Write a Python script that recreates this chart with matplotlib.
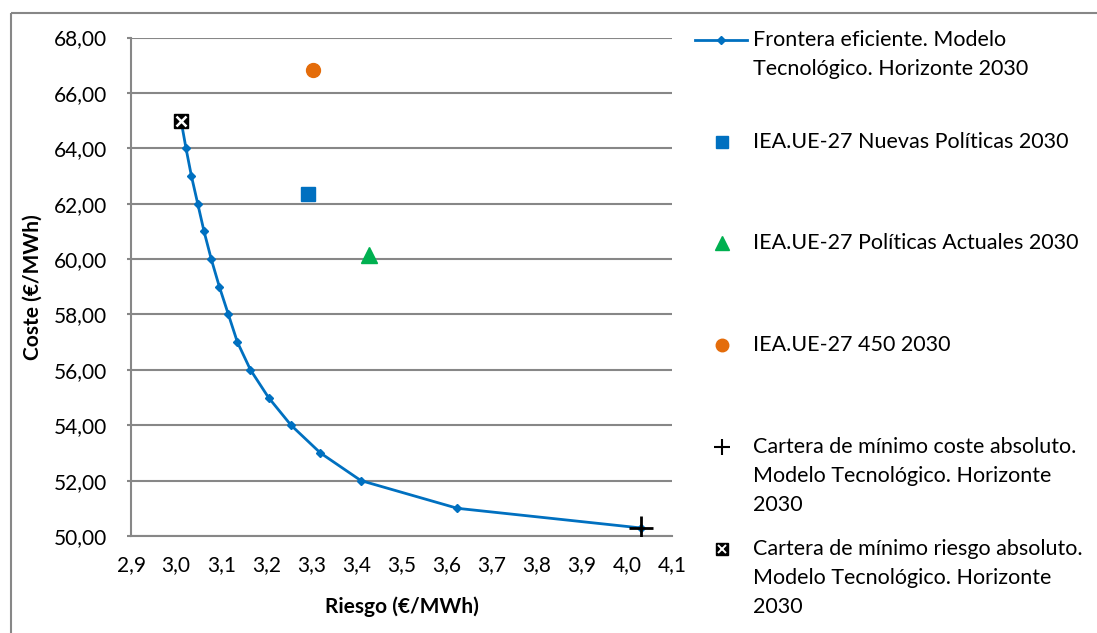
import matplotlib
matplotlib.use("Agg")
import matplotlib.pyplot as plt
from matplotlib.ticker import FuncFormatter

plt.rcParams['font.family'] = ['Lato', 'DejaVu Sans']

# Efficient frontier (risk, cost) in €/MWh
riesgo_frontera = [3.011, 3.022, 3.034, 3.048, 3.062, 3.078, 3.096, 3.116,
                   3.136, 3.165, 3.205, 3.255, 3.320, 3.410, 3.624, 4.031]
coste_frontera = [65.0, 64.0, 63.0, 62.0, 61.0, 60.0, 59.0, 58.0,
                  57.0, 56.0, 55.0, 54.0, 53.0, 52.0, 51.0, 50.29]

# IEA EU-27 scenarios for 2030
riesgo_nuevas, coste_nuevas = [3.292], [62.35]
riesgo_actuales, coste_actuales = [3.429], [60.13]
riesgo_450, coste_450 = [3.304], [66.83]

# Extreme portfolios
riesgo_min_coste, coste_min_coste = [4.031], [50.29]
riesgo_min_riesgo, coste_min_riesgo = [3.011], [65.0]

x_ticks = [2.9, 3.0, 3.1, 3.2, 3.3, 3.4, 3.5, 3.6, 3.7, 3.8, 3.9, 4.0, 4.1]
y_ticks = [50, 52, 54, 56, 58, 60, 62, 64, 66, 68]

legend_lines = [
    ["Frontera eficiente. Modelo", "Tecnológico. Horizonte 2030"],
    ["IEA.UE-27 Nuevas Políticas 2030"],
    ["IEA.UE-27 Políticas Actuales 2030"],
    ["IEA.UE-27 450 2030"],
    ["Cartera de mínimo coste absoluto.", "Modelo Tecnológico. Horizonte", "2030"],
    ["Cartera de mínimo riesgo absoluto.", "Modelo Tecnológico. Horizonte", "2030"],
]

BLUE = '#0070C0'
GREEN = '#00B050'
ORANGE = '#E46C0A'
GRID = '#878787'
W, H = 1097, 633
AX_L, AX_R, AX_T, AX_B = 131, 672, 37.5, 536

fig = plt.figure(figsize=(W / 100, H / 100), dpi=100)
ax = fig.add_axes([AX_L / W, 1 - AX_B / H, (AX_R - AX_L) / W, (AX_B - AX_T) / H])

ax.plot(riesgo_frontera, coste_frontera, color=BLUE, lw=2, marker='D',
        ms=4.5, mfc=BLUE, mec=BLUE, zorder=3)
ax.plot(riesgo_nuevas, coste_nuevas, ls='none', marker='s', ms=10,
        color=BLUE, zorder=4)
ax.plot(riesgo_actuales, coste_actuales, ls='none', marker='^', ms=11,
        color=GREEN, zorder=4)
ax.plot(riesgo_450, coste_450, ls='none', marker='o', ms=10,
        color=ORANGE, zorder=4)
ax.plot(riesgo_min_coste, coste_min_coste, ls='none', marker='+', ms=17,
        mew=2, color='black', zorder=5)
ax.plot(riesgo_min_riesgo, coste_min_riesgo, ls='none', marker='s', ms=10,
        mfc='black', mec='black', zorder=5)
ax.plot(riesgo_min_riesgo, coste_min_riesgo, ls='none', marker='x', ms=7,
        mew=1.8, color='white', zorder=6)

ax.set_xlim(2.9, 4.1)
ax.set_ylim(50, 68)
ax.set_xticks(x_ticks)
ax.set_yticks(y_ticks)
ax.xaxis.set_major_formatter(FuncFormatter(lambda v, p: f"{v:.1f}".replace('.', ',')))
ax.yaxis.set_major_formatter(FuncFormatter(lambda v, p: f"{v:.2f}".replace('.', ',')))
ax.grid(axis='y', color=GRID, lw=1.5)
ax.set_axisbelow(True)
for s in ['top', 'right']:
    ax.spines[s].set_visible(False)
for s in ['left', 'bottom']:
    ax.spines[s].set_color(GRID)
    ax.spines[s].set_linewidth(1.5)
ax.tick_params(axis='y', length=3, color=GRID, width=1.5, pad=14, labelsize=15)
ax.tick_params(axis='x', length=0, pad=14, labelsize=15)

ax.set_xlabel("Riesgo (€/MWh)", fontsize=15, fontweight='bold')
ax.set_ylabel("Coste (€/MWh)", fontsize=15, fontweight='bold')
ax.xaxis.set_label_coords(0.5, -(607 - AX_B) / (AX_B - AX_T))
ax.xaxis.label.set_va('center')
ax.yaxis.set_label_coords(-(AX_L - 33) / (AX_R - AX_L), 0.5)
ax.yaxis.label.set_va('center')

# Overlay in pixel units for the outer frame and the legend
ov = fig.add_axes([0, 0, 1, 1], facecolor='none')
ov.set_xlim(0, W)
ov.set_ylim(H, 0)
ov.axis('off')
ov.plot([11, 11], [H + 5, 13], color=GRID, lw=1.5, solid_capstyle='butt')
ov.plot([11, W + 5], [13, 13], color=GRID, lw=1.5, solid_capstyle='butt')

entry_y = [40, 142, 243, 345, 447, 549]
line_step = 29
mx = 722
ov.plot([695, 747], [entry_y[0]] * 2, color=BLUE, lw=2)
ov.plot([721], [entry_y[0]], marker='D', ms=4, color=BLUE)
ov.plot([mx], [entry_y[1]], marker='s', ms=9, color=BLUE)
ov.plot([mx], [entry_y[2]], marker='^', ms=10, color=GREEN)
ov.plot([mx], [entry_y[3]], marker='o', ms=9, color=ORANGE)
ov.plot([mx], [entry_y[4]], marker='+', ms=12, mew=1.5, color='black')
ov.plot([mx], [entry_y[5]], marker='s', ms=8, color='black')
ov.plot([mx], [entry_y[5]], marker='x', ms=5.5, mew=1.4, color='white')

for y0, lines in zip(entry_y, legend_lines):
    for i, txt in enumerate(lines):
        ov.text(753, y0 + i * line_step, txt, fontsize=15.5, va='center',
                ha='left', color='black')

fig.savefig("out.png", dpi=100, facecolor='white')
